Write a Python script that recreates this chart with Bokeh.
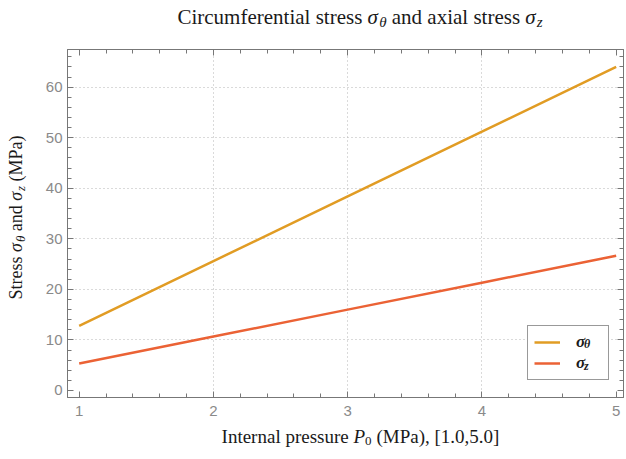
import math
import numpy as np
from bokeh.plotting import figure
from bokeh.layouts import row, column
from bokeh.models import (Range1d, LinearAxis, FixedTicker, Legend,
                          LegendItem, Grid, ColumnDataSource)
from bokeh.core.properties import value
from bokeh.embed import file_html
from bokeh.resources import INLINE

# ---- data -------------------------------------------------------------
pressure = [1.0, 2.0, 3.0, 4.0, 5.0]                 # internal pressure P0 (MPa)
sigma_theta = [12.8, 25.6, 38.4, 51.2, 64.0]        # circumferential stress (MPa)
sigma_z = [5.33, 10.67, 16.0, 21.33, 26.67]         # axial stress (MPa)

x_ticks = [1, 2, 3, 4, 5]
y_ticks = [0, 10, 20, 30, 40, 50, 60]
x_grid = [2, 3, 4]
y_grid = [10, 20, 30, 40, 50, 60]

# ---- page geometry (pixels) -------------------------------------------
W, H = 626, 459
LEFT_W = 40          # strip holding the vertical axis title
TOP_H = 45           # strip holding the plot title
MAIN_BOTTOM = 25     # room for the x tick labels below the frame
MAIN_W = W - LEFT_W
MAIN_H = 4 + 348 + MAIN_BOTTOM
BOT_H = H - TOP_H - MAIN_H   # strip holding the horizontal axis title
FRAME_L, FRAME_R = 67, 623      # canvas x of the plotting frame
X0, X1 = 0.913, 5.0545
Y0, Y1 = -1.385, 67.46

FRAME = "#777777"
TICK_TXT = "#8a8a8a"
INK = "#1a1a1a"
SERIF = "Liberation Serif"
C_THETA = "#E19C24"
C_Z = "#EB6235"

p = figure(width=MAIN_W, height=MAIN_H, title=None,
           x_range=Range1d(X0, X1), y_range=Range1d(Y0, Y1),
           output_backend="svg", toolbar_location=None,
           x_axis_type=None, y_axis_type=None,
           min_border_left=FRAME_L - LEFT_W, min_border_right=W - FRAME_R,
           min_border_top=4, min_border_bottom=MAIN_BOTTOM,
           background_fill_color="white", border_fill_color="white",
           outline_line_color=FRAME)

# dotted grid
p.add_layout(Grid(dimension=0, ticker=FixedTicker(ticks=x_grid),
                  grid_line_color="#b4b4b4", grid_line_dash="1 3"))
p.add_layout(Grid(dimension=1, ticker=FixedTicker(ticks=y_grid),
                  grid_line_color="#b4b4b4", grid_line_dash="1 3"))

x_minor = [round(v, 1) for v in np.arange(1.0, 5.01, 0.2)]
y_minor = list(range(0, 67, 2))


def frame_axis(ticker, labels):
    ax = LinearAxis(ticker=ticker)
    ax.axis_line_color = FRAME
    ax.major_tick_line_color = FRAME
    ax.minor_tick_line_color = FRAME
    ax.major_tick_in = 6
    ax.major_tick_out = 0
    ax.minor_tick_in = 4
    ax.minor_tick_out = 0
    if labels:
        ax.major_label_text_font = "Liberation Sans"
        ax.major_label_text_font_size = "15px"
        ax.major_label_text_color = TICK_TXT
    else:
        ax.major_label_text_color = None
        ax.major_label_text_font_size = "1px"
        ax.major_label_standoff = 0
    return ax


xb = frame_axis(FixedTicker(ticks=x_ticks, minor_ticks=x_minor), True)
xb.major_label_standoff = 8
yl = frame_axis(FixedTicker(ticks=y_ticks, minor_ticks=y_minor), True)
yl.major_label_standoff = 5
p.add_layout(xb, "below")
p.add_layout(yl, "left")
p.add_layout(frame_axis(FixedTicker(ticks=x_ticks, minor_ticks=x_minor), False), "above")
p.add_layout(frame_axis(FixedTicker(ticks=y_ticks, minor_ticks=y_minor), False), "right")

# ---- curves -----------------------------------------------------------
r_theta = p.line(pressure, sigma_theta, line_color=C_THETA, line_width=2.5)
r_z = p.line(pressure, sigma_z, line_color=C_Z, line_width=2.5)

# boxed legend with the sigma symbols
legend = Legend(items=[LegendItem(label="σ", renderers=[r_theta]),
                       LegendItem(label="σ", renderers=[r_z])],
                location=(527 - FRAME_L, 17), margin=0, padding=6, spacing=1,
                glyph_width=26, glyph_height=20, label_height=20,
                label_width=26, label_standoff=16,
                label_text_font=SERIF, label_text_font_style="bold italic",
                label_text_font_size="17px", label_text_color=INK,
                border_line_color="#333333", border_line_width=1,
                background_fill_color="white", background_fill_alpha=1)
p.add_layout(legend)

# second, frameless legend that only carries the subscripts
subs = Legend(items=[LegendItem(label="θ", renderers=[r_theta]),
                     LegendItem(label="z", renderers=[r_z])],
              location=(584 - FRAME_L, 23), margin=0, padding=0, spacing=7,
              glyph_width=0, glyph_height=14, label_height=14,
              label_width=10, label_standoff=0,
              label_text_font=SERIF, label_text_font_style="bold italic",
              label_text_font_size="12px", label_text_color=INK,
              border_line_color=None, background_fill_alpha=0)
p.add_layout(subs)


# ---- composed titles with sub-scripts ---------------------------------
def run(pieces, center, mid, size, vertical=False):
    """Lay pieces out one after another; returns canvas-pixel placements."""
    out = []
    total = sum(pc[3] for pc in pieces) * size
    pos = center + total / 2 if vertical else center - total / 2
    for text, rel, style, adv, drop in pieces:
        fs = f"{int(round(size * rel))}px"
        if vertical:
            out.append((mid + drop * size, pos, text, fs, style, math.pi / 2))
            pos -= adv * size
        else:
            out.append((pos, mid + drop * size, text, fs, style, 0.0))
            pos += adv * size
    return out


def text_strip(w, h, xr, oy, placed):
    """A bare figure holding text pieces given in canvas pixels."""
    f = figure(width=w, height=h, title=None,
               x_range=Range1d(*xr), y_range=Range1d(0, h),
               output_backend="svg", toolbar_location=None,
               x_axis_type=None, y_axis_type=None,
               min_border=0, min_border_left=0, min_border_right=0,
               min_border_top=0, min_border_bottom=0,
               outline_line_color=None, background_fill_color="white",
               border_fill_color="white")
    src = ColumnDataSource(dict(
        x=[c[0] for c in placed], y=[h - (c[1] - oy) for c in placed],
        text=[c[2] for c in placed], size=[c[3] for c in placed],
        style=[c[4] for c in placed], angle=[c[5] for c in placed]))
    f.text(x="x", y="y", text="text", angle="angle", source=src,
           text_font=value(SERIF), text_font_size="size", text_font_style="style",
           text_color=INK, text_align="left", text_baseline="middle")
    return f


title_pieces = [
    ("Circumferential stress", 1.0, "normal", 9.054, 0.0),
    ("σ", 1.0, "italic", 0.55, 0.0),
    ("θ", 0.7, "italic", 0.60, 0.25),
    ("and axial stress", 1.0, "normal", 6.36, 0.0),
    ("σ", 1.0, "italic", 0.55, 0.0),
    ("z", 0.7, "italic", 0.27, 0.25),
]
xlabel_pieces = [
    ("Internal pressure", 1.0, "normal", 6.942, 0.0),
    ("P", 1.0, "italic", 0.61, 0.0),
    ("0", 0.7, "normal", 0.60, 0.25),
    ("(MPa), [1.0,5.0]", 1.0, "normal", 6.471, 0.0),
]
ylabel_pieces = [
    ("Stress", 1.0, "normal", 2.639, 0.0),
    ("σ", 1.0, "italic", 0.55, 0.0),
    ("θ", 0.7, "italic", 0.60, 0.25),
    ("and", 1.0, "normal", 1.694, 0.0),
    ("σ", 1.0, "italic", 0.55, 0.0),
    ("z", 0.7, "italic", 0.52, 0.25),
    ("(MPa)", 1.0, "normal", 2.555, 0.0),
]

# the strips share the main frame's horizontal extent inside the column
top = text_strip(MAIN_W, TOP_H, (FRAME_L, FRAME_R), 0,
                 run(title_pieces, 359.5, 16, 21))
bottom = text_strip(MAIN_W, BOT_H, (FRAME_L, FRAME_R), TOP_H + MAIN_H,
                    run(xlabel_pieces, 360, 436, 19))
left = text_strip(LEFT_W, H, (0, LEFT_W), 0,
                  run(ylabel_pieces, 217, 15.5, 18, vertical=True))

page = row(left, column(top, p, bottom, spacing=0), spacing=0)
open("out.html", "w").write(file_html(page, INLINE))
